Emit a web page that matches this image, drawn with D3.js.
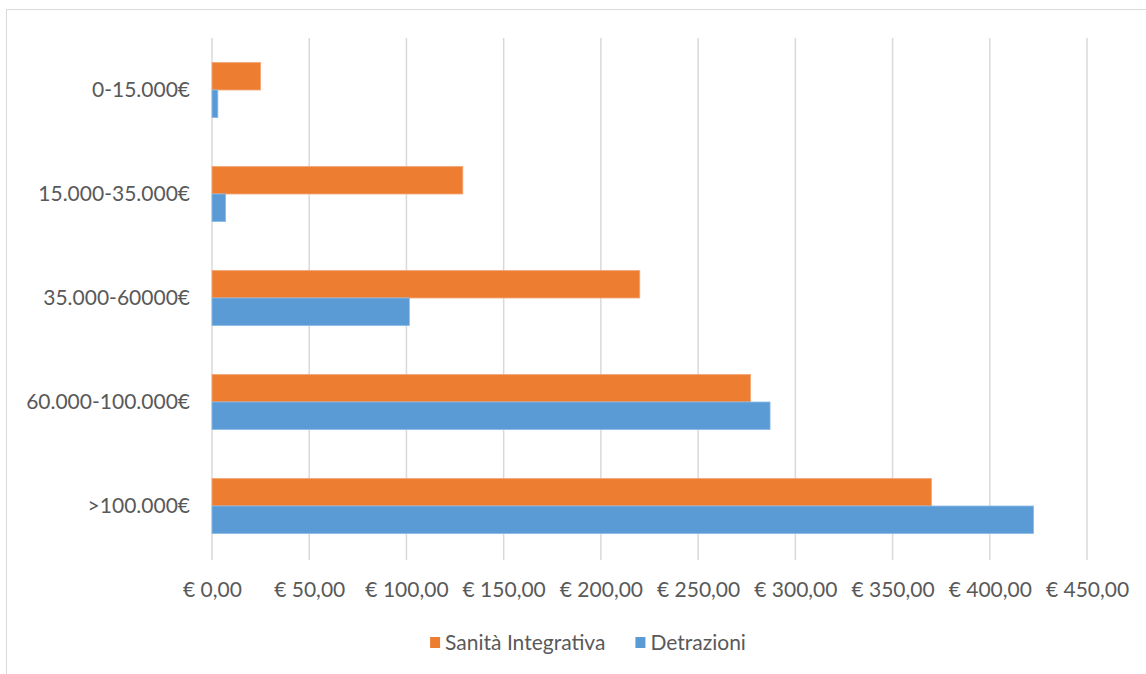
<!DOCTYPE html>
<html><head><meta charset="utf-8">
<script src="https://cdn.jsdelivr.net/npm/d3@7"></script>
<style>body{margin:0;background:#fff}text{font-family:Lato,"Open Sans",sans-serif;fill:#595959}</style>
</head><body><svg id="c" width="1146" height="674"></svg>
<script>
const categories = ["0-15.000€","15.000-35.000€","35.000-60000€","60.000-100.000€",">100.000€"];
const seriesNames = ["Sanità Integrativa","Detrazioni"];
const sanita = [25, 129, 220, 277, 370];
const detrazioni = [3, 7, 101.5, 287, 422.5];
const xTicks = [0,50,100,150,200,250,300,350,400,450];
const colors = ["#ED7D31","#5B9BD5"];

const svg = d3.select("#c");
svg.append("rect").attr("x",6.5).attr("y",9.5).attr("width",1150).attr("height",680)
  .attr("fill","none").attr("stroke","#d9d9d9");

const pLeft=212, pRight=1087, pTop=38, pBottom=558;
const FS = 21;
const x = d3.scaleLinear().domain([0,450]).range([pLeft,pRight]);
const y = d3.scaleBand().domain(categories).range([pTop,pBottom]).paddingInner(0.47).paddingOuter(0.235);
const ySub = d3.scaleBand().domain(seriesNames).range([0,y.bandwidth()]);

const fmt = v => "€ " + d3.format(",.2f")(v).replace(/,/g,"#").replace(".",",").replace(/#/g,".");

const g = svg.append("g");
g.selectAll("line.grid").data(xTicks).join("line")
  .attr("x1",d=>x(d)).attr("x2",d=>x(d)).attr("y1",pTop).attr("y2",pBottom+2)
  .attr("stroke","#d9d9d9").attr("stroke-width",1.5);

const data = categories.map((c,i)=>({c, vals:[sanita[i], detrazioni[i]]}));
const grp = g.selectAll("g.cat").data(data).join("g").attr("transform",d=>`translate(0,${y(d.c)})`);
grp.selectAll("rect").data(d=>d.vals.map((v,j)=>({v, s:seriesNames[j], j}))).join("rect")
  .attr("x",x(0)).attr("y",d=>ySub(d.s)).attr("height",ySub.bandwidth())
  .attr("width",d=>x(d.v)-x(0)).attr("fill",d=>colors[d.j])
  .attr("stroke",d=>d.j===0?"#F4A878":"#8DB9E3").attr("stroke-width",0.8);

const xAxis = d3.axisBottom(x).tickValues(xTicks).tickFormat(fmt).tickSize(0).tickPadding(0);
const ax = svg.append("g").attr("transform",`translate(0,590)`).call(xAxis);
ax.select(".domain").remove();
ax.selectAll("text").attr("font-size",FS).attr("dy","0.35em");

const yAxis = d3.axisLeft(y).tickSize(0).tickPadding(22);
const ay = svg.append("g").attr("transform",`translate(${pLeft},0)`).call(yAxis);
ay.select(".domain").remove();
ay.selectAll("text").attr("font-size",FS);

// legend, laid out by measured text widths and centred like the reference
const legG = svg.append("g");
let cx = 0;
seriesNames.forEach((name,i)=>{
  const it = legG.append("g").attr("transform",`translate(${cx},643)`);
  it.append("rect").attr("x",0).attr("y",-6).attr("width",10).attr("height",11).attr("fill",colors[i]);
  const t = it.append("text").attr("x",15).attr("dy","0.35em").attr("font-size",FS).text(name);
  cx += 15 + t.node().getComputedTextLength() + 30;
});
const legW = cx - 30;
legG.attr("transform",`translate(${588 - legW/2},0)`);
</script></body></html>
